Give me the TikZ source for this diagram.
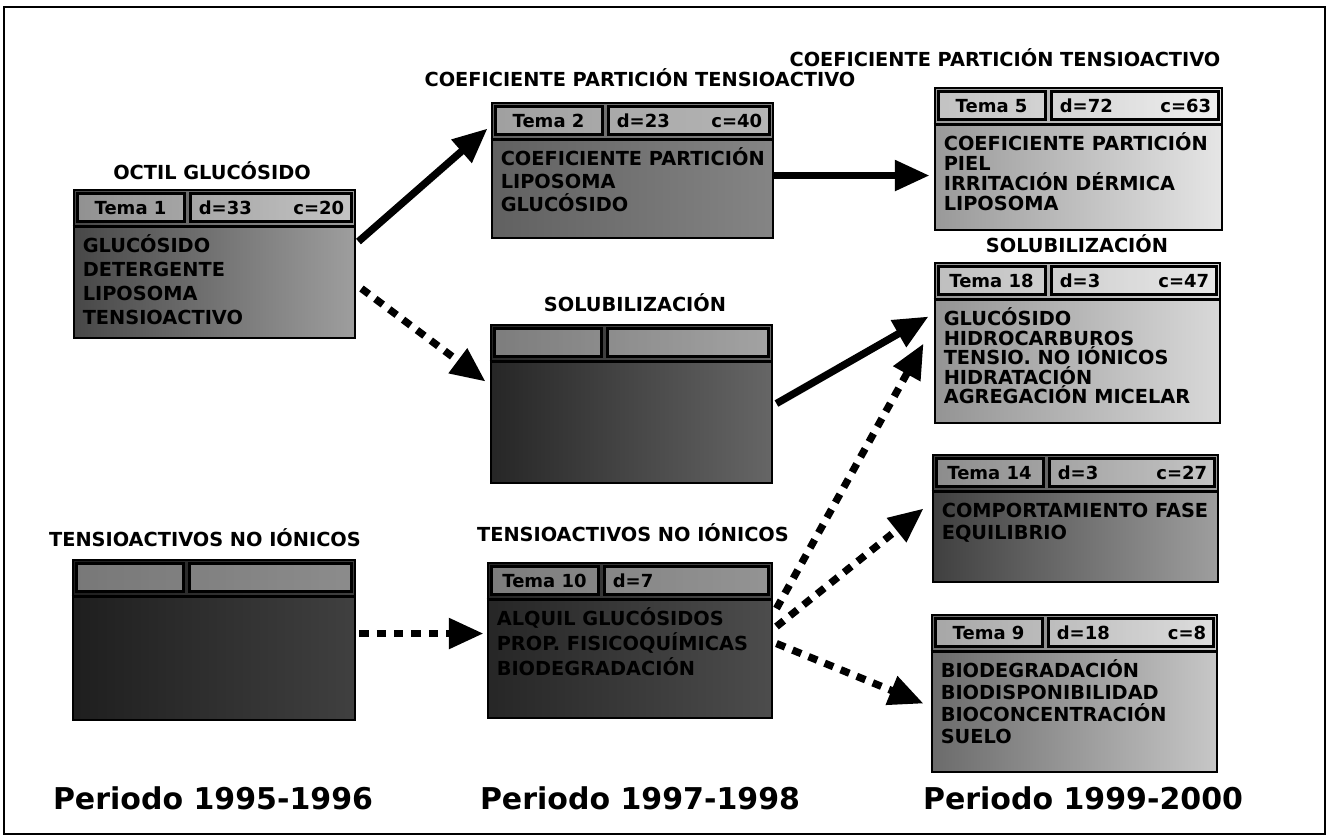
\documentclass[tikz,border=0pt]{standalone}
\usepackage{fontspec}
\setmainfont{DejaVu Sans}
\usetikzlibrary{arrows.meta,calc,fit}
\tikzset{
  tbox/.style={draw=black, line width=2.2pt, inner sep=0pt},
  hcell/.style={draw=black, line width=1.6pt, fill=white, fill opacity=0.4},
  ttl/.style={font=\fontsize{14.5pt}{17pt}\selectfont\bfseries, inner sep=0pt, anchor=base},
  hdr/.style={font=\fontsize{13.5pt}{15pt}\selectfont\bfseries, inner sep=0pt, anchor=base},
  bodytxt/.style={font=\fontsize{14.5pt}{16pt}\selectfont\bfseries, inner sep=0pt, anchor=base west},
  per/.style={font=\fontsize{22.5pt}{26pt}\selectfont\bfseries, inner sep=0pt, anchor=base},
  link/.style={line width=5.5pt, -{Triangle[length=26pt,width=22pt]}},
  dlink/.style={link, dash pattern=on 7pt off 6pt},
}
\newcommand\tbox[9]{%
  \node[tbox, fit={#2 #3}, #4] (#1) {};
  \draw[hcell] ($(#1.north west)+(5,5)$) rectangle ($(#1.north west)+(112,33)$);
  \draw[hcell] ($(#1.north west)+(118,5)$) rectangle ($(#1.north east)+(-5,33)$);
  \draw[line width=2pt] ($(#1.north west)+(0,38)$) -- ($(#1.north east)+(0,38)$);
  \node[hdr] at ($(#1.north west)+(58,26)$) {#5};
  \node[hdr, anchor=base west] at ($(#1.north west)+(126,26)$) {#6};
  \node[hdr, anchor=base east] at ($(#1.north east)+(-12,26)$) {#7};
  \foreach \ln [count=\i] in {#9} {
    \node[bodytxt] at ($(#1.north west)+(10,{64+(\i-1)*#8})$) {\ln};
  }
}
\begin{document}
\begin{tikzpicture}[x=0.75pt,y=-0.75pt]
\useasboundingbox (0,0) rectangle (1332,837);
\draw[line width=0.8pt] (4,7) rectangle (1325,834);

% titles
\node[ttl] (t1) at (212,180) {OCTIL GLUCÓSIDO};
\node[ttl] (t2) at (640,87) {COEFICIENTE PARTICIÓN TENSIOACTIVO};
\node[ttl] (t3) at (635,312) {SOLUBILIZACIÓN};
\node[ttl] (t4) at (1005,67) {COEFICIENTE PARTICIÓN TENSIOACTIVO};
\node[ttl] (t5) at (1077,253) {SOLUBILIZACIÓN};
\node[ttl] (t8) at (205,547) {TENSIOACTIVOS NO IÓNICOS};
\node[ttl] (t9) at (633,542) {TENSIOACTIVOS NO IÓNICOS};

% boxes
\tbox{b1}{(74,190)}{(355,338)}{left color=black!72, right color=black!38}{Tema 1}{d=33}{c=20}{24}{GLUCÓSIDO,DETERGENTE,LIPOSOMA,TENSIOACTIVO}
\tbox{b2}{(492,103)}{(773,238)}{left color=black!62, right color=black!48}{Tema 2}{d=23}{c=40}{23}{COEFICIENTE PARTICIÓN,LIPOSOMA,GLUCÓSIDO}
\tbox{b3}{(491,325)}{(772,483)}{left color=black!85, right color=black!60}{}{}{}{22}{}
\tbox{b4}{(935,88)}{(1222,230)}{left color=black!40, right color=black!10}{Tema 5}{d=72}{c=63}{20}{COEFICIENTE PARTICIÓN,PIEL,IRRITACIÓN DÉRMICA,LIPOSOMA}
\tbox{b5}{(935,263)}{(1220,423)}{left color=black!42, right color=black!15}{Tema 18}{d=3}{c=47}{19.5}{GLUCÓSIDO,HIDROCARBUROS,TENSIO. NO IÓNICOS,HIDRATACIÓN,AGREGACIÓN MICELAR}
\tbox{b6}{(933,455)}{(1218,582)}{left color=black!75, right color=black!38}{Tema 14}{d=3}{c=27}{22}{COMPORTAMIENTO FASE,EQUILIBRIO}
\tbox{b7}{(932,615)}{(1217,772)}{left color=black!58, right color=black!22}{Tema 9}{d=18}{c=8}{22}{BIODEGRADACIÓN,BIODISPONIBILIDAD,BIOCONCENTRACIÓN,SUELO}
\tbox{b8}{(73,560)}{(355,720)}{left color=black!88, right color=black!75}{}{}{}{22}{}
\tbox{b9}{(488,563)}{(772,718)}{left color=black!85, right color=black!70}{Tema 10}{d=7}{}{25}{ALQUIL GLUCÓSIDOS,PROP. FISICOQUÍMICAS,BIODEGRADACIÓN}

% connectors
\draw[link]  ($(b1.north east)+(2,53)$)  -- ($(b2.north west)+(-3,27)$);
\draw[dlink] ($(b1.north east)+(5,100)$) -- ($(b3.north west)+(-4,58)$);
\draw[link]  ($(b2.north east)+(0,74)$)  -- ($(b4.north west)+(-4,89)$);
\draw[link]  ($(b3.north east)+(3,80)$)  -- ($(b5.north west)+(-5,55)$);
\draw[dlink] ($(b8.north east)+(3,75)$)  -- ($(b9.north west)+(-3,72)$);
\draw[dlink] ($(b9.north east)+(3,47)$)  -- ($(b5.north west)+(-10,82)$);
\draw[dlink] ($(b9.north east)+(3,65)$)  -- ($(b6.north west)+(-8,55)$);
\draw[dlink] ($(b9.north east)+(3,82)$)  -- ($(b7.north west)+(-7,90)$);

% periods
\node[per] (p1) at (213,809) {Periodo 1995-1996};
\node[per] (p2) at (640,809) {Periodo 1997-1998};
\node[per] (p3) at (1083,809) {Periodo 1999-2000};
\end{tikzpicture}
\end{document}
